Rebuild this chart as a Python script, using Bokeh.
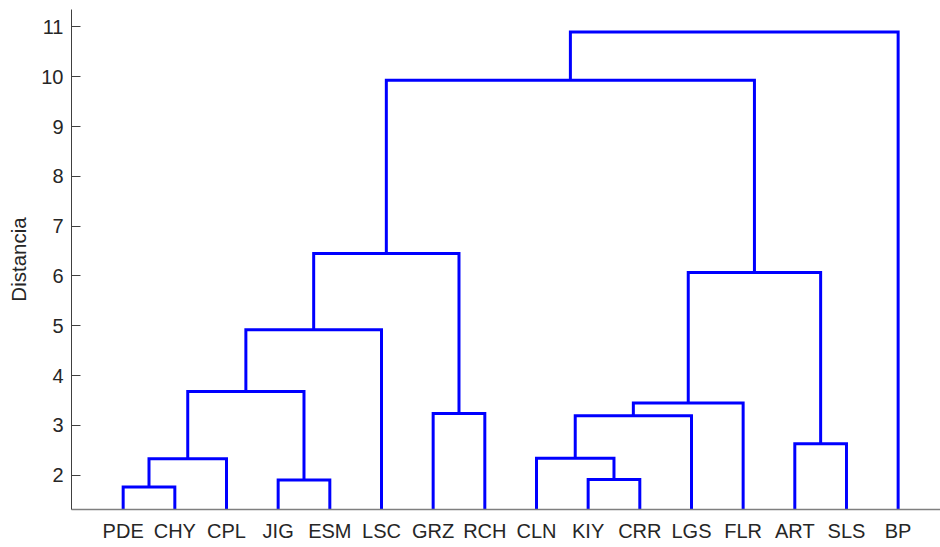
from bokeh.plotting import figure
from bokeh.models import FixedTicker, Range1d, ColumnDataSource
from bokeh.embed import file_html
from bokeh.resources import INLINE

# Leaf order (left to right) as shown in the dendrogram
leaves = ["PDE", "CHY", "CPL", "JIG", "ESM", "LSC", "GRZ", "RCH",
          "CLN", "KIY", "CRR", "LGS", "FLR", "ART", "SLS", "BP"]

# Linkage: each merge joins two members (leaf name or "c<k>" = k-th cluster) at a distance
merge_left = ["PDE", "KIY", "JIG", "c0", "CLN", "ART", "c4", "GRZ", "c6", "c3", "c9", "c10", "c8", "c11", "c13"]
merge_right = ["CHY", "CRR", "ESM", "CPL", "c1", "SLS", "LGS", "RCH", "FLR", "c2", "LSC", "c7", "c5", "c12", "BP"]
merge_height = [1.76, 1.91, 1.90, 2.33, 2.34, 2.63, 3.19, 3.24, 3.45, 3.68, 4.92, 6.45, 6.07, 9.93, 10.90]

y_ticks = [2, 3, 4, 5, 6, 7, 8, 9, 10, 11]

# Positions of leaves and clusters
pos = {name: (i + 1, 0.0) for i, name in enumerate(leaves)}
xs, ys = [], []
for k, (a, b, h) in enumerate(zip(merge_left, merge_right, merge_height)):
    xa, ha = pos[a]
    xb, hb = pos[b]
    xs.append([xa, xa, xb, xb])
    ys.append([ha, h, h, hb])
    pos["c%d" % k] = ((xa + xb) / 2.0, h)

src = ColumnDataSource(dict(xs=xs, ys=ys))

FONT = "Liberation Sans"
TXT = "#262626"

p = figure(width=940, height=547, output_backend="svg", toolbar_location=None,
           x_range=Range1d(0, 16.82), y_range=Range1d(1.31, 11.35),
           min_border_left=71, min_border_right=0, min_border_top=9, min_border_bottom=38)
p.outline_line_color = None
p.xgrid.visible = False
p.ygrid.visible = False
p.background_fill_color = "white"
p.border_fill_color = "white"

p.multi_line(xs="xs", ys="ys", source=src, line_color="#0000FF", line_width=3,
             line_join="miter", line_cap="butt")

# X axis: leaf labels
p.xaxis.ticker = FixedTicker(ticks=list(range(1, len(leaves) + 1)))
p.xaxis.major_label_overrides = {i + 1: n for i, n in enumerate(leaves)}
p.xaxis.major_tick_in = 0
p.xaxis.major_tick_out = 0
p.xaxis.minor_tick_line_color = None
p.xaxis.axis_line_color = "#7f7f7f"
p.xaxis.axis_line_width = 1.5
p.xaxis.major_label_text_font = FONT
p.xaxis.major_label_text_font_size = "20px"
p.xaxis.major_label_text_color = TXT
p.xaxis.major_label_standoff = 10

# Y axis
p.yaxis.ticker = FixedTicker(ticks=y_ticks)
p.yaxis.major_tick_in = 9
p.yaxis.major_tick_out = 0
p.yaxis.minor_tick_line_color = None
p.yaxis.major_tick_line_color = "#404040"
p.yaxis.axis_line_color = "#404040"
p.yaxis.major_label_text_font = FONT
p.yaxis.major_label_text_font_size = "20px"
p.yaxis.major_label_text_color = TXT
p.yaxis.major_label_standoff = 8
p.yaxis.axis_label = "Distancia"
p.yaxis.axis_label_text_font = FONT
p.yaxis.axis_label_text_font_size = "20.5px"
p.yaxis.axis_label_text_font_style = "normal"
p.yaxis.axis_label_text_color = TXT
p.yaxis.axis_label_standoff = 8

open("out.html", "w").write(file_html(p, INLINE))
